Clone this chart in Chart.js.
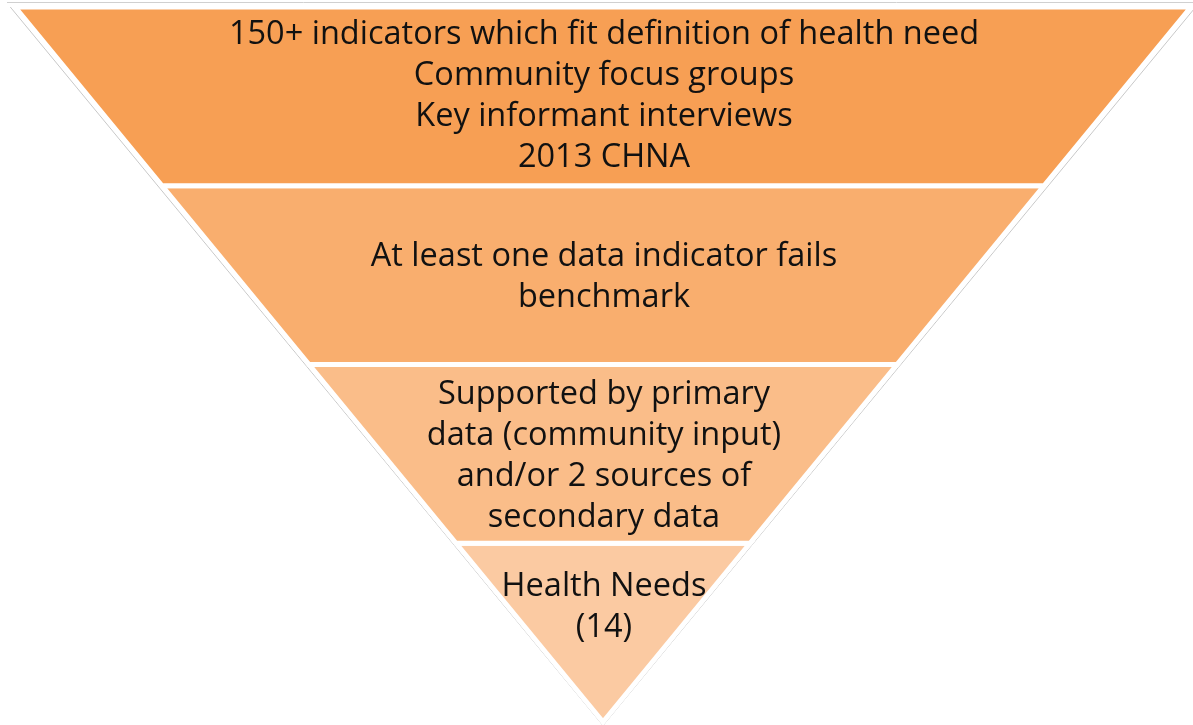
<!DOCTYPE html>
<html>
<head>
<meta charset="utf-8">
<script src="https://cdn.jsdelivr.net/npm/chart.js@4.4.1/dist/chart.umd.min.js"></script>
<style>
  html, body { margin: 0; background: #fff; }
  #wrap { position: relative; width: 1193px; height: 725px; }
</style>
</head>
<body>
<div id="wrap"><canvas id="funnel"></canvas></div>
<script>
// stages, top (widest) to bottom (apex)
const stageLabels = [
    ['150+ indicators which fit definition of health need', 'Community focus groups', 'Key informant interviews', '2013 CHNA'],
    ['At least one data indicator fails', 'benchmark'],
    ['Supported by primary', 'data (community input)', 'and/or 2 sources of', 'secondary data'],
    ['Health Needs', '(14)']
]
const stageHeights = [1, 1, 1, 1]
const stageColors = ['#F79F54', '#F9AE6E', '#FABD89', '#FBCAA2']

const labelAnchor = [0.49, 0.5, 0.5, 0.345]
const lineHeight = 41
const textNudge = 2
const total = stageHeights.reduce((a, b) => a + b, 0)
const halfWidth = (y) => y / total

let level = total
const stageDatasets = stageHeights.map((h, i) => {
    const bottom = level - h
    const data = [
        {x: -halfWidth(level), y: level},
        {x: halfWidth(level), y: level},
        {x: halfWidth(bottom), y: bottom},
        {x: -halfWidth(bottom), y: bottom},
        {x: -halfWidth(level), y: level}
    ]
    level = bottom
    return {
        data,
        showLine: true,
        fill: 'shape',
        backgroundColor: stageColors[i],
        borderColor: '#ffffff',
        borderWidth: 5,
        pointRadius: 0,
        tension: 0,
        clip: false,
        order: 1
    }
})

// faint grey hairline just outside the white edge
const outlinePad = 0.008
const outlineDataset = {
    data: [
        {x: -halfWidth(total) - outlinePad, y: total},
        {x: 0, y: -0.02},
        {x: halfWidth(total) + outlinePad, y: total}
    ],
    showLine: true,
    fill: false,
    borderColor: '#c8c8c8',
    borderWidth: 1,
    pointRadius: 0,
    tension: 0,
    clip: false,
    order: 10
}

const frameLine = {
    id: 'frameLine',
    beforeDraw(chart) {
        const {ctx} = chart
        ctx.save()
        ctx.strokeStyle = '#d0d0d0'
        ctx.lineWidth = 1
        ctx.beginPath()
        ctx.moveTo(7, 2.5)
        ctx.lineTo(chart.width, 2.5)
        ctx.stroke()
        ctx.restore()
    }
}

const funnelLabels = {
    id: 'funnelLabels',
    afterDatasetsDraw(chart) {
        const {ctx, scales: {x, y}} = chart
        ctx.save()
        ctx.font = '32.5px "Open Sans"'
        ctx.fillStyle = '#111111'
        ctx.textAlign = 'center'
        ctx.textBaseline = 'middle'
        let top = total
        stageLabels.forEach((lines, i) => {
            const bottom = top - stageHeights[i]
            const yTop = y.getPixelForValue(top)
            const yBot = y.getPixelForValue(bottom)
            const cy = yTop + (yBot - yTop) * labelAnchor[i] + textNudge
            const cx = x.getPixelForValue(0) + 1
            lines.forEach((line, j) => {
                ctx.fillText(line, cx, cy + (j - (lines.length - 1) / 2) * lineHeight)
            })
            top = bottom
        })
        ctx.restore()
    }
}

new Chart(document.getElementById('funnel'), {
    type: 'scatter',
    data: { datasets: [outlineDataset, ...stageDatasets] },
    options: {
        responsive: true,
        maintainAspectRatio: false,
        animation: false,
        layout: { padding: { left: 15, right: 2, top: 7, bottom: 3 } },
        plugins: {
            legend: { display: false },
            tooltip: { enabled: false }
        },
        scales: {
            x: { type: 'linear', min: -1, max: 1, display: false },
            y: { type: 'linear', min: 0, max: total, display: false }
        }
    },
    plugins: [frameLine, funnelLabels]
})
</script>
</body>
</html>
